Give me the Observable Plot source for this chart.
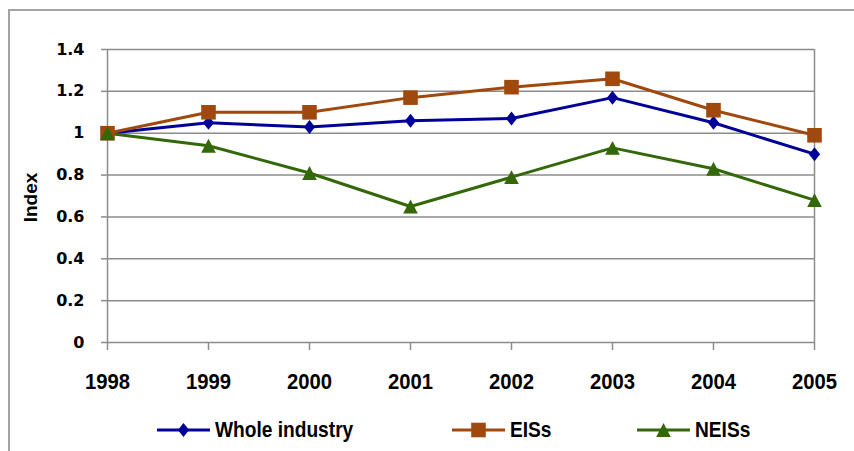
<!DOCTYPE html>
<html>
<head>
<meta charset="utf-8">
<script src="https://cdn.jsdelivr.net/npm/d3@7"></script>
<script src="https://cdn.jsdelivr.net/npm/@observablehq/plot@0.6"></script>
<style>
  html, body { margin: 0; padding: 0; background: #fff; }
  #wrap { position: relative; width: 854px; height: 451px; overflow: hidden; background: #fff; }
  #border { position: absolute; left: 8px; top: 9px; width: 900px; height: 500px;
            border-left: 2px solid #a3a3a3; border-top: 2px solid #a3a3a3; }
  #chart { position: absolute; left: 0; top: 0; }
  #legend { position: absolute; left: 0; top: 400px; width: 854px; height: 51px; }
  .item { position: absolute; top: 4px; height: 51px; display: flex; align-items: center; }
  .item svg { display: block; }
  .item span { margin-left: 5px; font-family: "Liberation Sans", Arial, sans-serif;
               font-weight: bold; font-size: 22px; color: #000; white-space: nowrap;
               display: inline-block; transform: scaleX(0.87); transform-origin: 0 50%; }
</style>
</head>
<body>
<div id="wrap">
  <div id="border"></div>
  <div id="chart"></div>
  <div id="legend"></div>
</div>
<script>
// Index values by year for the whole industry and its two sub-groups
const years = [1998, 1999, 2000, 2001, 2002, 2003, 2004, 2005];
const wholeIndustry = [1.00, 1.05, 1.03, 1.06, 1.07, 1.17, 1.05, 0.90];
const eiss = [1.00, 1.10, 1.10, 1.17, 1.22, 1.26, 1.11, 0.99];
const neiss = [1.00, 0.94, 0.81, 0.65, 0.79, 0.93, 0.83, 0.68];

const seriesNames = ["Whole industry", "EISs", "NEISs"];
const seriesColors = ["#000099", "#a0490f", "#326807"];

const yTicks = [0, 0.2, 0.4, 0.6, 0.8, 1, 1.2, 1.4];
const yTickLabels = ["0", "0.2", "0.4", "0.6", "0.8", "1", "1.2", "1.4"];
const yLabelOf = new Map(yTicks.map((t, i) => [t, yTickLabels[i]]));

// Marker shapes (size = π r², so r is recovered from it)
const diamond = {draw(ctx, size) {
  const r = Math.sqrt(size / Math.PI), w = r * 0.8;
  ctx.moveTo(0, -r); ctx.lineTo(w, 0); ctx.lineTo(0, r); ctx.lineTo(-w, 0); ctx.closePath();
}};
const square = {draw(ctx, size) {
  const r = Math.sqrt(size / Math.PI);
  ctx.rect(-r, -r, 2 * r, 2 * r);
}};
const triangle = {draw(ctx, size) {
  const r = Math.sqrt(size / Math.PI), h = r * 0.95;
  ctx.moveTo(0, -h); ctx.lineTo(r, h); ctx.lineTo(-r, h); ctx.closePath();
}};
const symbols = [diamond, square, triangle];
const radii = [7, 7.3, 7.3];

const seriesValues = [wholeIndustry, eiss, neiss];
const rows = seriesNames.map((name, s) => years.map((year, i) => ({series: name, year, value: seriesValues[s][i]})));

const grid = "#8c8c8c";
const sans = "'Liberation Sans', Arial, sans-serif";

const chart = Plot.plot({
  width: 854,
  height: 400,
  marginLeft: 107,
  marginRight: 40,
  marginTop: 49,
  marginBottom: 58,
  style: {background: "transparent", overflow: "visible"},
  x: {type: "linear", domain: [1998, 2005]},
  y: {domain: [0, 1.4]},
  marks: [
    Plot.gridY(yTicks, {stroke: grid, strokeOpacity: 1, strokeWidth: 1.5}),
    Plot.ruleX([1998, 2005], {y1: 0, y2: 1.4, stroke: grid, strokeWidth: 1.5}),
    Plot.axisY(yTicks, {
      tickSize: 6, tickPadding: 17, stroke: grid, strokeWidth: 1.5, strokeOpacity: 1,
      tickFormat: d => yLabelOf.get(d), label: null,
      fontFamily: "'DejaVu Sans', sans-serif", fontWeight: "bold", fontSize: 16, fill: "#000"
    }),
    Plot.axisX(years, {
      tickSize: 8, tickPadding: 23, stroke: grid, strokeWidth: 1.5, strokeOpacity: 1,
      tickFormat: d => String(d), label: null,
      fontFamily: sans, fontWeight: "bold", fontSize: 22.5, fill: "#000"
    }),
    Plot.text(["Index"], {
      frameAnchor: "left", textAnchor: "middle", rotate: -90, dx: -77, dy: 1.5,
      fontFamily: sans, fontWeight: "bold", fontSize: 19, fill: "#000"
    }),
    ...rows.map((r, s) => Plot.line(r, {x: "year", y: "value", stroke: seriesColors[s], strokeWidth: 3})),
    ...rows.map((r, s) => Plot.dot(r, {x: "year", y: "value", symbol: symbols[s], r: radii[s], fill: seriesColors[s], stroke: "none"}))
  ]
});

// Condense the year labels horizontally around their anchors
d3.select(chart).selectAll('[aria-label="x-axis tick label"] text')
  .attr("transform", function() {
    const t = this.getAttribute("transform") || "";
    return (t + " scale(0.9,1)").trim();
  });

document.getElementById("chart").appendChild(chart);

// Legend below the plot: line swatch with marker, then series name
const legendLeft = [157, 452, 637];
const legend = d3.select("#legend");
seriesNames.forEach((name, s) => {
  const item = legend.append("div").attr("class", "item").style("left", legendLeft[s] + "px");
  const sw = item.append("svg").attr("width", 53).attr("height", 20);
  sw.append("line").attr("x1", 0).attr("x2", 53).attr("y1", 10).attr("y2", 10)
    .attr("stroke", seriesColors[s]).attr("stroke-width", 3);
  const p = d3.path();
  symbols[s].draw(p, Math.PI * radii[s] * radii[s]);
  sw.append("path").attr("d", p.toString()).attr("transform", "translate(26.5,10)").attr("fill", seriesColors[s]);
  item.append("span").text(name);
});
</script>
</body>
</html>
